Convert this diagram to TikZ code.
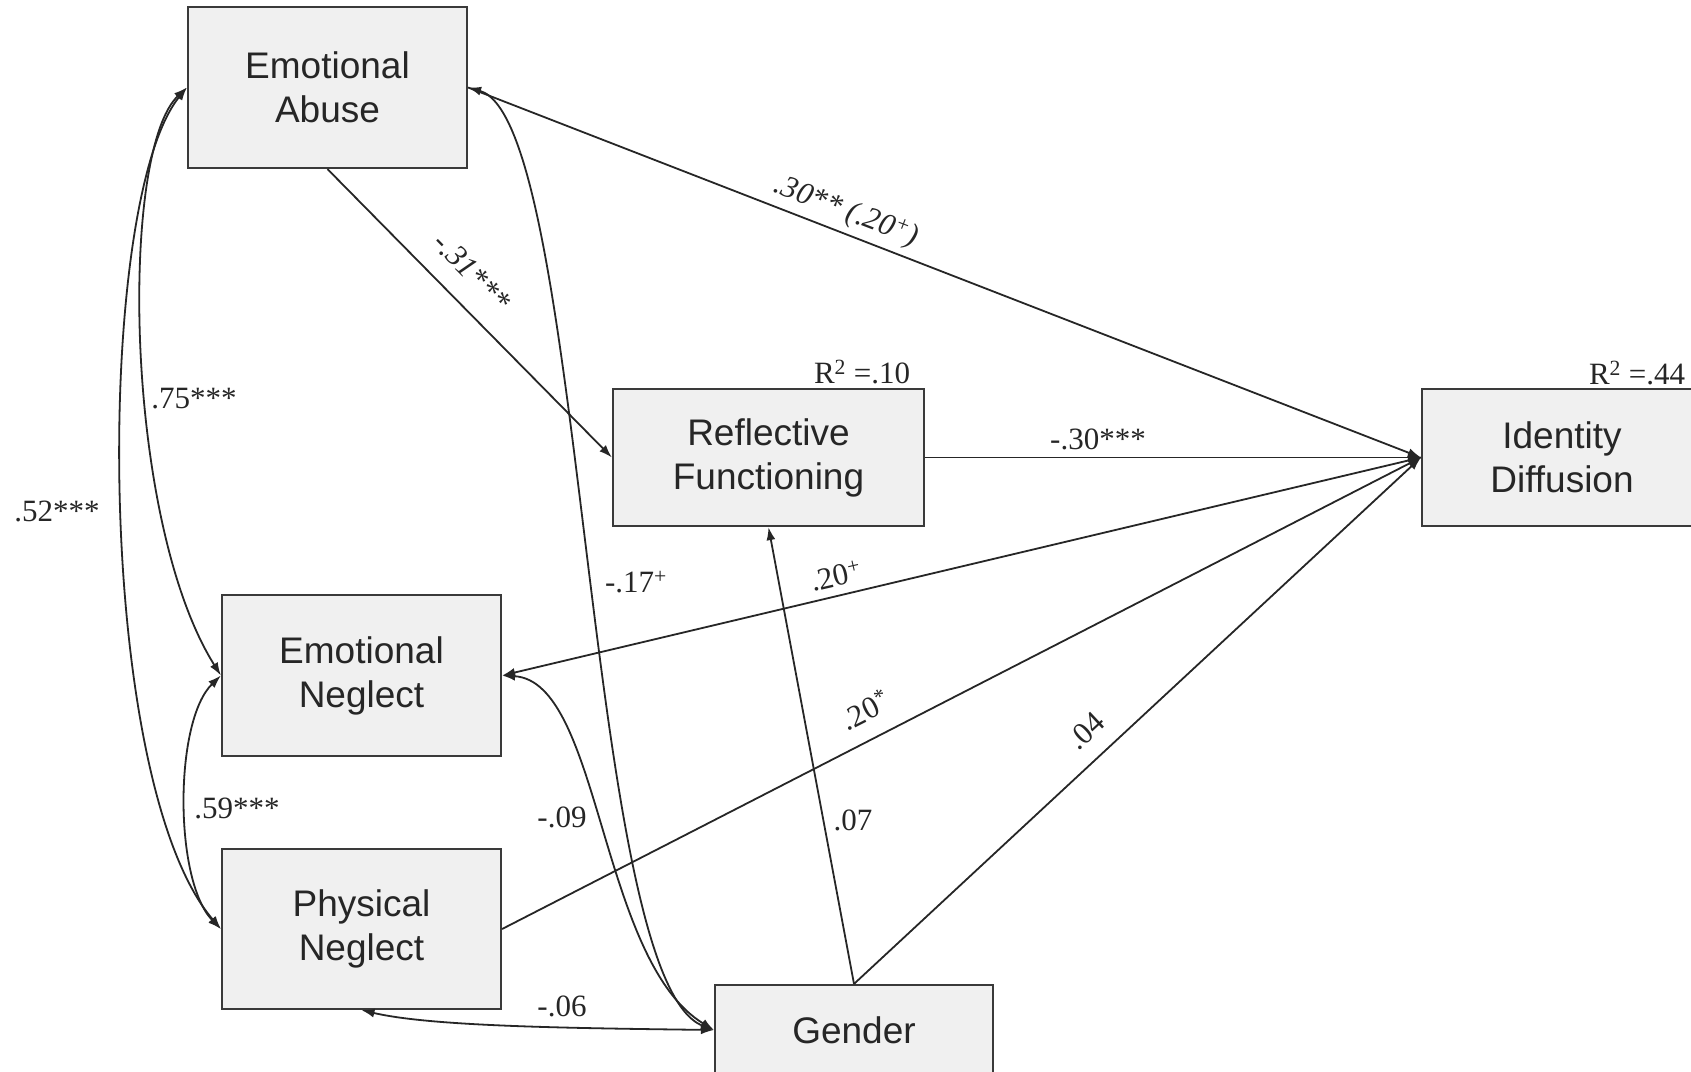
\documentclass[tikz,border=0pt]{standalone}
\usepackage{fontspec}
\setmainfont{Liberation Serif}
\newfontfamily\boxfont{Liberation Sans}
\usetikzlibrary{arrows.meta}
\definecolor{boxfill}{HTML}{F0F0F0}
\definecolor{boxline}{HTML}{3A3A3A}
\begin{document}
\begin{tikzpicture}[x=1pt,y=-1pt,
  var/.style={draw=boxline, line width=2.2pt, fill=boxfill, align=center,
    font=\boxfont\fontsize{37}{44}\selectfont, inner sep=0pt, text=black!85},
  lab/.style={font=\fontsize{31}{36}\selectfont, inner sep=0pt, text=black!85},
  conn/.style={line width=1.8pt, draw=black!85},
  arr/.style={conn, -{Latex[length=13pt,width=9pt]}},
  bi/.style={conn, {Latex[length=13pt,width=9pt]}-{Latex[length=13pt,width=9pt]}}]
\clip (0,0) rectangle (1691,1071);
\fill[white] (0,0) rectangle (1691,1071);

% boxes
\node[var, minimum width=279pt, minimum height=161pt] (EA) at (327.5,87.5) {Emotional\\Abuse};
\node[var, minimum width=311pt, minimum height=137pt] (RF) at (768.5,457.5) {\raisebox{0pt}[0pt][0pt]{}Reflective\\Functioning\vphantom{p}};
\node[var, minimum width=280pt, minimum height=137pt] (ID) at (1562,457.5) {Identity\\Diffusion};
\node[var, minimum width=279pt, minimum height=161pt] (EN) at (361.5,675.5) {Emotional\\Neglect};
\node[var, minimum width=279pt, minimum height=160pt] (PN) at (361.5,929) {Physical\\Neglect};
\node[var, minimum width=278pt, minimum height=90pt] (G) at (854,1030) {Gender};

% R squared
\node[lab] (r10) at (862,372) {R\textsuperscript{2} =.10};
\node[lab] (r44) at (1637,373) {R\textsuperscript{2} =.44};

% directed paths
\draw[arr] (EA.south) -- (RF.west);
\draw[arr] (EA.east) -- (ID.west);
\draw[arr] (RF.east) -- (ID.west);
\draw[arr] (ID.west) -- (EN.east);
\draw[arr] (PN.east) -- (ID.west);
\draw[arr] (G.north) -- (ID.west);
\draw[arr] (G.north) -- (RF.south);

% covariances
\draw[bi] (EA.west) .. controls +(-67.5,63.5) and +(-97,-154.5) .. (EN.west);
\draw[bi] (EA.west) .. controls +(-92.5,113.5) and +(-127,-148) .. (PN.west);
\draw[bi] (EN.west) .. controls +(-47,45.5) and +(-47,-48) .. (PN.west);
\draw[bi] (EA.east) .. controls +(118,33.5) and +(-130,-50) .. (G.west);
\draw[bi] (EN.east) .. controls +(99,5.5) and +(-115,-70) .. (G.west);
\draw[bi] (PN.south) .. controls +(68.5,16) and +(-155,-2) .. (G.west);

% path labels
\node[lab, rotate=-45.5] (l31) at (472,272) {\textit{-.31***}};
\node[lab, rotate=-21] (l30a) at (846,212) {\textit{.30** (.20\textsuperscript{+})}};
\node[lab] (l30b) at (1098,439) {-.30***};
\node[lab, rotate=13] (l20a) at (836,576) {.20\textsuperscript{+}};
\node[lab, rotate=27] (l20b) at (865,710) {.20\textsuperscript{*}};
\node[lab, rotate=43] (l04) at (1086,731) {.04};
\node[lab] (l07) at (853,820) {.07};
\node[lab] (l17) at (636,582) {-.17\textsuperscript{+}};
\node[lab] (l09) at (562,817) {-.09};
\node[lab] (l06) at (562,1006) {-.06};
\node[lab] (l75) at (194,399) {.75***};
\node[lab] (l52) at (57,511) {.52***};
\node[lab] (l59) at (237,808) {.59***};
\end{tikzpicture}
\end{document}
